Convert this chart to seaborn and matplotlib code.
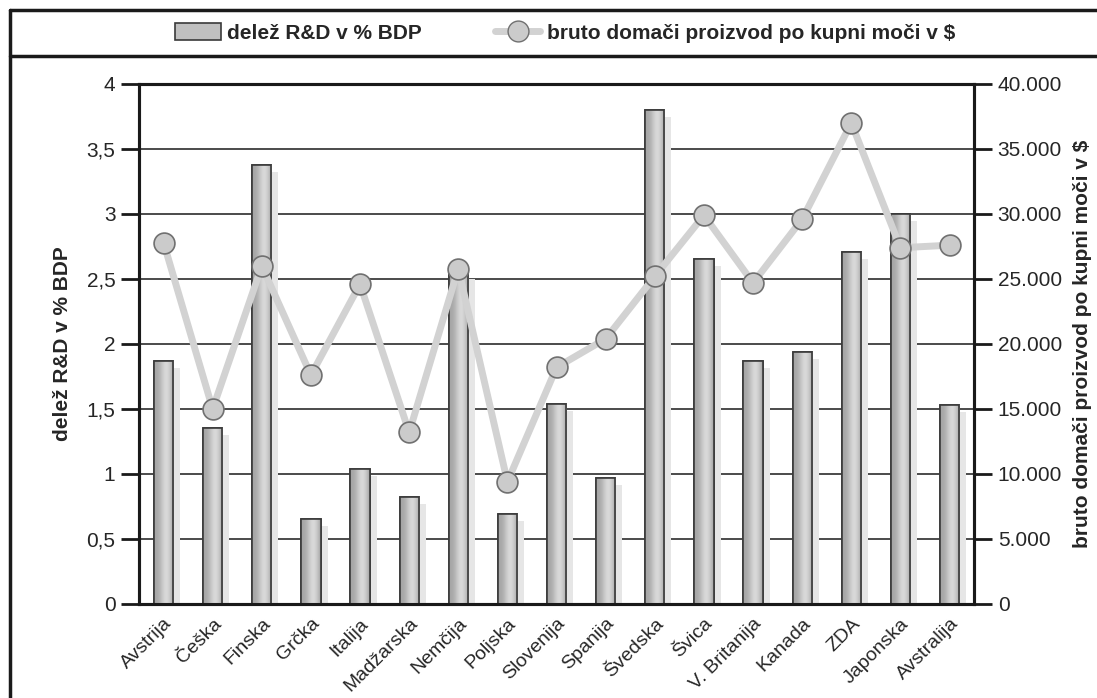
#!/usr/bin/env python3

import seaborn as sns
import pandas as pd
import numpy as np
import matplotlib.pyplot as plt
from matplotlib.patches import Rectangle
from matplotlib.lines import Line2D
from matplotlib.ticker import FuncFormatter, MultipleLocator
from matplotlib.transforms import offset_copy

countries = ['Avstrija', 'Češka', 'Finska', 'Grčka', 'Italija', 'Madžarska', 'Nemčija',
             'Poljska', 'Slovenija', 'Spanija', 'Švedska', 'Švica', 'V. Britanija',
             'Kanada', 'ZDA', 'Japonska', 'Avstralija']
rd_share = [1.87, 1.35, 3.38, 0.65, 1.04, 0.82, 2.55, 0.69, 1.54, 0.97, 3.8, 2.65,
            1.87, 1.94, 2.71, 3.0, 1.53]
gdp_ppp = [27800, 15000, 26000, 17600, 24600, 13200, 25800, 9400, 18200, 20400, 25200,
           29900, 24700, 29600, 37000, 27400, 27600]

bar_label = 'delež R&D v % BDP'
line_label = 'bruto domači proizvod po kupni moči v $'

sns.set_style('white')
plt.rcParams['font.family'] = ['Liberation Sans', 'DejaVu Sans']

df = pd.DataFrame({'country': countries, 'rd': rd_share, 'gdp': gdp_ppp})

fig = plt.figure(figsize=(10.97, 6.98), dpi=100)
ax = fig.add_axes([0.1267, 0.1347, 0.888 - 0.1267, 0.8797 - 0.1347])

sns.barplot(data=df, x='country', y='rd', color='#bdbdbd', width=0.39,
            edgecolor='#3a3a3a', linewidth=1.2, ax=ax, zorder=3)

# shadow + cylinder shading for every bar
shadow_tr = offset_copy(ax.transData, fig=fig, x=7, y=-7, units='dots')
g = np.linspace(0, 1, 64)
shade = 0.64 + 0.21 * np.exp(-((g - 0.62) / 0.32) ** 2) - 0.05 * g ** 8
shade = np.tile(shade, (2, 1))
for p in list(ax.patches):
    x0, w, h = p.get_x(), p.get_width(), p.get_height()
    ax.add_patch(Rectangle((x0, 0), w, h, transform=shadow_tr, facecolor='#e6e6e6',
                           edgecolor='none', zorder=2))
    im = ax.imshow(shade, cmap='gray', vmin=0, vmax=1, aspect='auto',
                   extent=(x0, x0 + w, 0, h), zorder=3.5, interpolation='bicubic')
    im.set_clip_path(p)
    ax.add_patch(Rectangle((x0, 0), w, h, facecolor='none', edgecolor='#3a3a3a',
                           lw=1.2, zorder=4))

ax.set_xlim(-0.5, len(countries) - 0.5)
ax.set_ylim(0, 4)
ax.yaxis.set_major_locator(MultipleLocator(0.5))
ax.yaxis.set_major_formatter(FuncFormatter(lambda v, _: f'{v:g}'.replace('.', ',')))
ax.grid(axis='y', color='#1a1a1a', lw=1.1, zorder=0)
ax.set_axisbelow(True)

ax.set_xticks(range(len(countries)))
ax.set_xticks(np.arange(-0.5, len(countries), 1), minor=True)
ax.set_xticklabels(countries, rotation=45, ha='right', rotation_mode='anchor', fontsize=14)
lbl_tr = offset_copy(ax.get_xaxis_transform(), fig=fig, x=11, y=0, units='dots')
for t in ax.get_xticklabels():
    t.set_transform(lbl_tr)
ax.tick_params(axis='x', which='major', length=0, pad=8)
ax.tick_params(axis='x', which='minor', length=13, width=2, color='#1a1a1a', direction='out')
ax.tick_params(axis='y', length=13, width=2, color='#1a1a1a', direction='out', labelsize=15, pad=4)
ax.set_xlabel('')
ax.set_ylabel(bar_label, fontsize=15, fontweight='bold', labelpad=10)

for s in ax.spines.values():
    s.set_linewidth(2.2)
    s.set_color('#1a1a1a')

ax2 = ax.twinx()
sns.lineplot(x=np.arange(len(countries)), y=df['gdp'], ax=ax2, sort=False,
             color='#d2d2d2', linewidth=5, marker='o', markersize=15,
             markerfacecolor='#cbcbcb', markeredgecolor='#707070', markeredgewidth=1.2, zorder=5)
ax2.set_ylim(0, 40000)
ax2.yaxis.set_major_locator(MultipleLocator(5000))
ax2.yaxis.set_major_formatter(FuncFormatter(lambda v, _: f'{int(v):,}'.replace(',', '.')))
ax2.tick_params(axis='y', length=13, width=2, color='#1a1a1a', direction='out', labelsize=15, pad=4)
ax2.set_ylabel(line_label, fontsize=15, fontweight='bold', labelpad=8)
for s in ax2.spines.values():
    s.set_linewidth(2.2)
    s.set_color('#1a1a1a')
ax2.set_xlim(-0.5, len(countries) - 0.5)

# legend strip and outer frame
handles = [Rectangle((0, 0), 1, 1, facecolor='#c0c0c0', edgecolor='#3a3a3a', lw=1.2),
           Line2D([], [], color='#d2d2d2', lw=5, marker='o', markersize=15,
                  markerfacecolor='#cbcbcb', markeredgecolor='#707070')]
fig.legend(handles, [bar_label, line_label], loc='center', bbox_to_anchor=(0.515, 0.953),
           ncol=2, frameon=False, prop={'weight': 'bold', 'size': 15},
           handlelength=2.2, handleheight=0.9, handletextpad=0.3, columnspacing=3.5)

fw, fh = 1097, 698
frame_kw = dict(color='#1a1a1a', lw=2.5, transform=fig.transFigure)
fig.add_artist(Line2D([10 / fw, 1], [1 - 10 / fh, 1 - 10 / fh], **frame_kw))
fig.add_artist(Line2D([10 / fw, 1], [1 - 56 / fh, 1 - 56 / fh], **frame_kw))
fig.add_artist(Line2D([10 / fw, 10 / fw], [0, 1 - 10 / fh], **frame_kw))

plt.savefig('out.png', dpi=100)
